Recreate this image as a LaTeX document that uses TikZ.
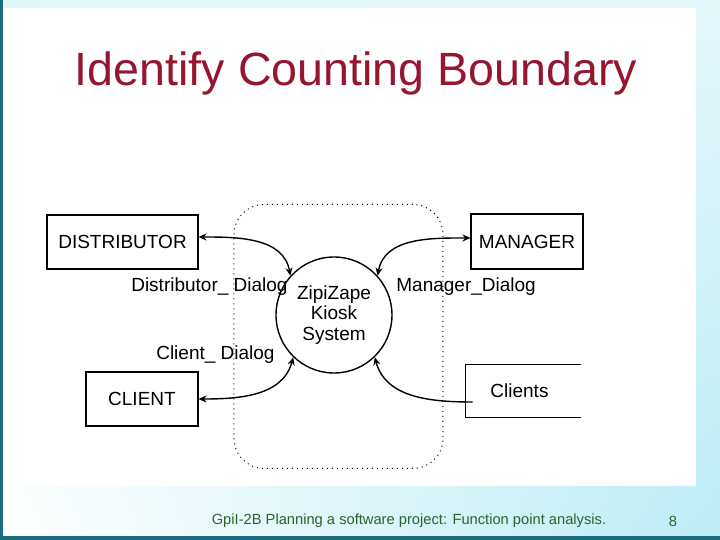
\documentclass[tikz,border=0pt]{standalone}
\usepackage{fontspec}
\setmainfont{Liberation Sans}
\usetikzlibrary{arrows.meta,shadings}
\definecolor{bgcyan}{RGB}{188,236,246}
\definecolor{edgeteal}{RGB}{28,108,128}
\definecolor{titlered}{RGB}{150,22,48}
\definecolor{footgreen}{RGB}{42,100,42}
\begin{document}
\begin{tikzpicture}[x=0.5pt, y=-0.5pt,
  entity/.style={draw, line width=0.55pt, inner sep=0pt, font=\fontsize{9.5}{11}\selectfont},
  proc/.style={draw, line width=0.7pt, circle, inner sep=0pt, minimum size=58pt, align=center,
    font=\fontsize{9.5}{10.25}\selectfont},
  flowlbl/.style={inner sep=0pt, font=\fontsize{9.5}{11}\selectfont},
  flow/.style={line width=0.7pt, {Stealth[length=4pt,width=3.5pt]}-{Stealth[length=4pt,width=3.5pt]}},
  flowin/.style={line width=0.7pt, -{Stealth[length=4pt,width=3.5pt]}}]
  %% ── Slide background ───────────────────────────────────────
  \useasboundingbox (0,0) rectangle (720,540);
  \shade[upper left=bgcyan!45, upper right=bgcyan!40, lower left=white, lower right=bgcyan]
    (0,0) rectangle (720,540);
  \fill[white] (3,8) rectangle (696,486);
  \fill[edgeteal] (0,0) rectangle (3,540);
  \fill[edgeteal] (0,536) rectangle (720,540);
  %% ── Title and footer ───────────────────────────────────────
  \node[titlered, font=\fontsize{23.3}{26}\selectfont] (title) at (356,73) {Identify Counting Boundary};
  \node[footgreen, font=\fontsize{7.35}{9}\selectfont] (footer) at (409,521)
    {GpiI-2B Planning a software project: Function point analysis.};
  \node[footgreen, font=\fontsize{7.35}{9}\selectfont] (pageno) at (673,521) {8};
  %% ── Counting boundary ──────────────────────────────────────
  \node[draw, dotted, line width=0.5pt, rounded corners=15pt, minimum width=104.5pt, minimum height=132pt]
    (boundary) at (338.5,336.5) {};
  %% ── Process and external entities ──────────────────────────
  \node[proc] (kiosk) at (334,315) {ZipiZape\\Kiosk\\System};
  \node[entity, minimum width=75.5pt, minimum height=27pt] (distributor) at (122.5,242) {DISTRIBUTOR};
  \node[entity, minimum width=56pt, minimum height=27.5pt] (manager) at (527,241.5) {MANAGER};
  \node[entity, minimum width=56pt, minimum height=27pt] (client) at (142,399) {CLIENT};
  \node[inner sep=0pt, minimum width=57.5pt, minimum height=26pt, font=\fontsize{9.5}{11}\selectfont]
    (clients) at (523.5,391) {\hspace*{-4pt}Clients};
  \draw[line width=0.55pt] (clients.north east) -- (clients.north west) -- (clients.south west) -- (clients.south east);
  %% ── Data flows ─────────────────────────────────────────────
  \draw[flow] ([yshift=2.5pt]distributor.east) to[out=0, in=100] (kiosk.138);
  \draw[flow] ([yshift=1.75pt]manager.west) to[out=180, in=80] (kiosk.42);
  \draw[flow] (client.east) to[out=0, in=-105] (kiosk.226);
  \draw[flowin] ([xshift=3.5pt, yshift=-5.5pt]clients.west) to[out=180, in=-75] (kiosk.-46);
  %% ── Flow labels ────────────────────────────────────────────
  \node[flowlbl, anchor=base east] (distlbl) at (288,292) {Distributor\_ Dialog};
  \node[flowlbl, anchor=base east] (clientlbl) at (275,360) {Client\_ Dialog};
  \node[flowlbl, anchor=base west] (mgrlbl) at (396,292) {Manager\_Dialog};
\end{tikzpicture}
\end{document}
